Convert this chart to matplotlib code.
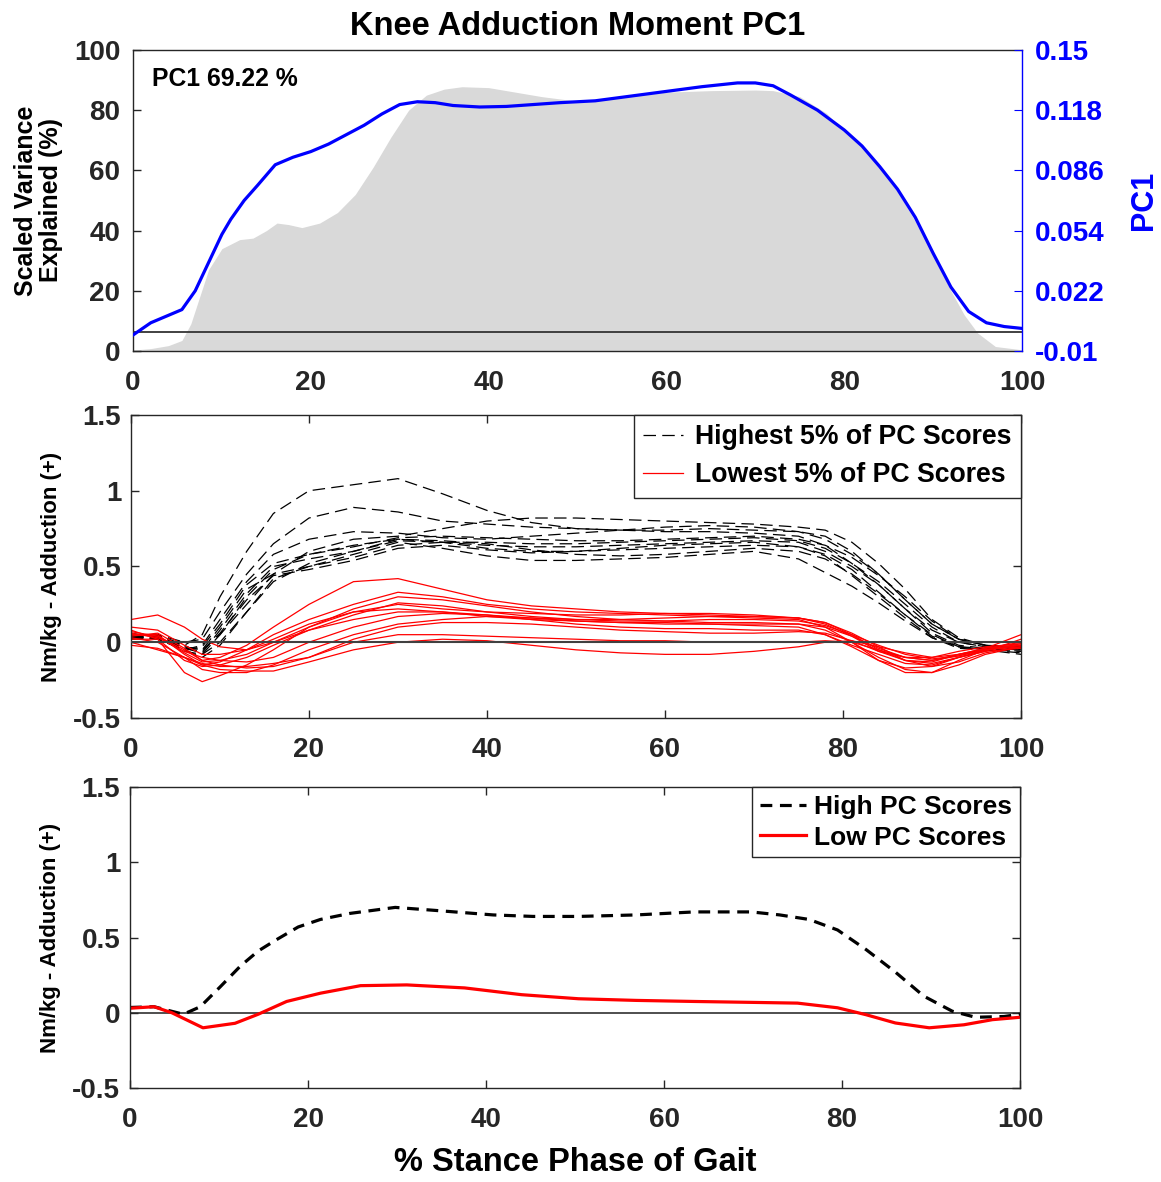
import numpy as np
import matplotlib
matplotlib.use("Agg")
import matplotlib.pyplot as plt

plt.rcParams['font.family'] = ['Liberation Sans', 'DejaVu Sans']
plt.rcParams['font.weight'] = 'bold'
plt.rcParams['lines.scale_dashes'] = False

#------------------------------#
# Top panel: variance + PC1    #
#------------------------------#
x_var = [0, 2, 4, 5.5, 6.5, 7.5, 8.5, 10, 12, 13.5, 15, 16.2, 17.5, 19, 21, 23, 25, 27, 29,
         31, 33, 35, 37, 40, 43, 46, 50, 55, 60, 65, 70, 72, 75, 78, 80, 82, 84, 86, 88,
         90, 92, 93.5, 95, 97, 100]
var_pct = [0.3, 0.8, 1.8, 3.5, 9, 18, 27, 34, 37, 37.5, 40, 42.5, 42, 41, 42.5, 46, 52, 61, 71,
           80, 85, 87, 87.8, 87.5, 86, 84.5, 83, 84.5, 86, 86.5, 86.7, 86.5, 84.5, 79, 73, 68,
           61, 53, 43, 32, 20, 12, 6, 1.5, 0.4]

x_pc = [0, 2, 4, 5.5, 7, 9, 10, 11, 12.5, 14, 16, 18, 20, 22, 24, 26, 28, 30, 32, 34, 36, 39,
        42, 45, 48, 52, 56, 60, 64, 68, 70, 72, 74, 77, 80, 82, 84, 86, 88, 90, 92, 94, 96,
        98, 100]
pc1 = [-0.0015, 0.005, 0.009, 0.012, 0.022, 0.042, 0.052, 0.060, 0.070, 0.078, 0.089, 0.093,
       0.096, 0.100, 0.105, 0.110, 0.116, 0.121, 0.1225, 0.122, 0.1205, 0.1197, 0.120, 0.121,
       0.122, 0.123, 0.1255, 0.128, 0.1305, 0.1325, 0.1325, 0.131, 0.126, 0.118, 0.1075,
       0.099, 0.088, 0.076, 0.061, 0.042, 0.024, 0.011, 0.005, 0.003, 0.002]

pc_ticks = [-0.01, 0.022, 0.054, 0.086, 0.118, 0.15]

#------------------------------#
# Middle panel: 5% extremes    #
#------------------------------#
x_grp = [0, 3, 6, 8, 10, 13, 16, 20, 25, 30, 35, 40, 45, 50, 55, 60, 65, 70, 75, 78, 81, 84,
         87, 90, 93, 96, 100]

high_curves = [
    [0.05, 0.04, -0.02, 0.05, 0.30, 0.60, 0.85, 1.00, 1.04, 1.08, 0.98, 0.87, 0.79, 0.75, 0.74, 0.73, 0.73, 0.72, 0.70, 0.64, 0.52, 0.38, 0.22, 0.08, 0.00, -0.03, -0.03],
    [0.05, 0.05, 0.00, 0.02, 0.20, 0.45, 0.65, 0.82, 0.89, 0.86, 0.80, 0.78, 0.76, 0.75, 0.74, 0.74, 0.75, 0.74, 0.73, 0.70, 0.60, 0.45, 0.28, 0.12, 0.02, -0.02, -0.04],
    [0.03, 0.05, -0.03, -0.05, 0.05, 0.25, 0.45, 0.60, 0.68, 0.70, 0.75, 0.80, 0.82, 0.82, 0.81, 0.80, 0.79, 0.78, 0.76, 0.74, 0.66, 0.52, 0.35, 0.15, 0.03, -0.02, -0.03],
    [0.04, 0.02, -0.05, -0.02, 0.15, 0.40, 0.58, 0.68, 0.73, 0.72, 0.69, 0.68, 0.70, 0.72, 0.74, 0.76, 0.77, 0.76, 0.73, 0.68, 0.58, 0.45, 0.28, 0.12, 0.02, -0.02, -0.05],
    [0.06, 0.03, -0.06, -0.08, 0.05, 0.30, 0.48, 0.58, 0.64, 0.68, 0.66, 0.62, 0.60, 0.60, 0.61, 0.62, 0.63, 0.64, 0.63, 0.58, 0.48, 0.33, 0.18, 0.05, -0.03, -0.05, -0.07],
    [0.02, 0.03, -0.05, -0.10, -0.02, 0.20, 0.42, 0.50, 0.58, 0.66, 0.62, 0.57, 0.54, 0.54, 0.55, 0.56, 0.58, 0.60, 0.55, 0.46, 0.37, 0.26, 0.14, 0.03, -0.04, -0.05, -0.08],
    [0.03, 0.04, -0.04, -0.07, 0.08, 0.32, 0.50, 0.55, 0.60, 0.67, 0.66, 0.64, 0.63, 0.63, 0.64, 0.65, 0.66, 0.67, 0.66, 0.60, 0.50, 0.38, 0.22, 0.06, -0.02, -0.04, -0.05],
    [0.05, 0.03, -0.03, -0.05, 0.10, 0.35, 0.45, 0.50, 0.56, 0.64, 0.66, 0.66, 0.65, 0.65, 0.66, 0.67, 0.68, 0.69, 0.67, 0.62, 0.52, 0.40, 0.25, 0.10, 0.00, -0.03, -0.04],
    [0.02, 0.05, -0.02, -0.08, 0.00, 0.20, 0.40, 0.52, 0.60, 0.68, 0.67, 0.65, 0.61, 0.58, 0.57, 0.58, 0.60, 0.62, 0.60, 0.55, 0.45, 0.32, 0.18, 0.04, -0.03, -0.04, -0.06],
    [0.04, 0.02, -0.05, -0.03, 0.12, 0.38, 0.52, 0.58, 0.63, 0.69, 0.70, 0.69, 0.68, 0.67, 0.67, 0.68, 0.69, 0.70, 0.68, 0.64, 0.56, 0.44, 0.30, 0.14, 0.02, -0.02, -0.03],
    [0.05, 0.04, -0.04, -0.06, 0.06, 0.28, 0.44, 0.48, 0.54, 0.62, 0.64, 0.61, 0.59, 0.60, 0.62, 0.64, 0.65, 0.66, 0.63, 0.57, 0.44, 0.30, 0.16, 0.03, -0.03, -0.05, -0.06],
]

low_curves = [
    [0.05, 0.04, -0.05, -0.12, -0.10, -0.02, 0.10, 0.25, 0.40, 0.42, 0.35, 0.28, 0.24, 0.22, 0.20, 0.19, 0.18, 0.17, 0.16, 0.13, 0.05, -0.05, -0.12, -0.13, -0.08, -0.05, -0.03],
    [0.15, 0.18, 0.10, 0.02, -0.03, -0.05, 0.00, 0.10, 0.20, 0.25, 0.22, 0.20, 0.19, 0.18, 0.18, 0.19, 0.19, 0.18, 0.16, 0.12, 0.04, -0.06, -0.12, -0.14, -0.10, -0.06, 0.02],
    [0.08, 0.02, -0.20, -0.26, -0.22, -0.15, -0.05, 0.10, 0.22, 0.30, 0.28, 0.24, 0.20, 0.17, 0.15, 0.14, 0.13, 0.13, 0.12, 0.08, 0.00, -0.10, -0.18, -0.20, -0.15, -0.08, -0.03],
    [0.00, -0.05, -0.10, -0.15, -0.18, -0.19, -0.19, -0.13, -0.05, 0.00, 0.02, 0.01, -0.02, -0.05, -0.07, -0.08, -0.08, -0.06, -0.03, 0.00, 0.01, -0.03, -0.07, -0.10, -0.08, -0.04, -0.02],
    [0.05, 0.05, -0.08, -0.15, -0.13, -0.05, 0.05, 0.15, 0.25, 0.33, 0.30, 0.25, 0.22, 0.20, 0.19, 0.18, 0.17, 0.16, 0.15, 0.10, 0.00, -0.12, -0.20, -0.20, -0.12, -0.05, -0.02],
    [0.10, 0.08, -0.02, -0.08, -0.08, -0.05, 0.02, 0.12, 0.20, 0.22, 0.20, 0.17, 0.15, 0.14, 0.13, 0.13, 0.12, 0.12, 0.12, 0.10, 0.04, -0.04, -0.10, -0.12, -0.08, -0.04, 0.00],
    [0.03, 0.00, -0.10, -0.18, -0.20, -0.20, -0.15, -0.05, 0.05, 0.12, 0.15, 0.17, 0.16, 0.14, 0.13, 0.12, 0.12, 0.11, 0.10, 0.05, -0.03, -0.12, -0.17, -0.16, -0.10, -0.06, -0.04],
    [0.06, 0.03, -0.06, -0.10, -0.12, -0.13, -0.10, 0.00, 0.10, 0.17, 0.19, 0.18, 0.15, 0.12, 0.10, 0.09, 0.09, 0.08, 0.08, 0.05, -0.02, -0.08, -0.14, -0.15, -0.10, -0.05, -0.02],
    [0.02, 0.02, -0.12, -0.16, -0.15, -0.10, -0.02, 0.08, 0.18, 0.26, 0.24, 0.20, 0.17, 0.15, 0.14, 0.14, 0.15, 0.15, 0.14, 0.11, 0.05, -0.02, -0.08, -0.11, -0.09, -0.05, -0.01],
    [0.04, 0.06, -0.04, -0.12, -0.15, -0.17, -0.16, -0.10, 0.02, 0.10, 0.13, 0.13, 0.12, 0.10, 0.08, 0.07, 0.06, 0.06, 0.07, 0.06, 0.01, -0.06, -0.10, -0.10, -0.06, -0.03, -0.01],
    [0.07, 0.04, -0.07, -0.13, -0.12, -0.08, 0.00, 0.08, 0.15, 0.20, 0.20, 0.18, 0.16, 0.15, 0.15, 0.16, 0.17, 0.17, 0.16, 0.13, 0.06, -0.03, -0.12, -0.16, -0.13, -0.07, -0.03],
    [-0.02, -0.04, -0.10, -0.14, -0.16, -0.16, -0.14, -0.10, 0.00, 0.05, 0.05, 0.04, 0.03, 0.02, 0.01, 0.01, 0.00, 0.00, 0.00, 0.01, 0.00, -0.05, -0.10, -0.12, -0.09, -0.04, 0.05],
]

#------------------------------#
# Bottom panel: group means    #
#------------------------------#
x_hi = [0, 2.7, 4, 6, 7.9, 10.1, 12.4, 14.4, 16.3, 18.9, 21.4, 24.7, 29.8, 34.3, 40.8, 45.3,
        50.4, 56.9, 63.4, 69.8, 73, 76.3, 79.5, 82.7, 86, 89.2, 92.4, 95, 98.2, 100]
hi_mean = [0.035, 0.04, 0.02, -0.01, 0.04, 0.17, 0.31, 0.41, 0.48, 0.57, 0.62, 0.66, 0.70,
           0.68, 0.65, 0.64, 0.64, 0.65, 0.67, 0.67, 0.65, 0.62, 0.55, 0.42, 0.27, 0.11, 0.01,
           -0.03, -0.025, -0.01]

x_lo = [0, 2.7, 4.7, 8.2, 11.8, 14.4, 17.6, 21.4, 25.9, 31.1, 37.6, 44, 50.4, 56.9, 63.4,
        69.8, 75, 79.5, 82.7, 86, 89.8, 93.7, 96.9, 100]
lo_mean = [0.03, 0.04, 0.0, -0.10, -0.07, -0.01, 0.075, 0.13, 0.18, 0.185, 0.165, 0.12, 0.093,
           0.082, 0.075, 0.069, 0.064, 0.033, -0.013, -0.068, -0.10, -0.08, -0.046, -0.03]

txt = (0.15, 0.15, 0.15)
W, H = 1161, 1182
fig = plt.figure(figsize=(W / 100, H / 100), dpi=100)


def box(l, t, r, b):
    return [l / W, 1 - b / H, (r - l) / W, (b - t) / H]


def style(ax, ypad):
    for s in ax.spines.values():
        s.set_color(txt)
        s.set_linewidth(1.0)
    ax.tick_params(direction='in', length=6, width=1.0, colors=txt, labelsize=20,
                   top=True, right=True)
    ax.tick_params(axis='x', pad=14)
    ax.tick_params(axis='y', pad=ypad)
    for lab in ax.get_xticklabels() + ax.get_yticklabels():
        lab.set_fontweight('bold')


# top
ax1 = fig.add_axes(box(133, 50, 1022, 351))
ax1.fill_between(x_var, var_pct, 0, color='#d9d9d9', lw=0)
ax1.set_xlim(0, 100)
ax1.set_ylim(0, 100)
ax1.set_xticks([0, 20, 40, 60, 80, 100])
ax1.set_yticks([0, 20, 40, 60, 80, 100])
style(ax1, 9)
ax1.tick_params(top=False, right=False)
ax1.tick_params(axis='x', length=0)
ax1.spines['right'].set_visible(False)
ax1.set_ylabel('Scaled Variance\nExplained (%)', fontsize=18, fontweight='bold',
               color='black', labelpad=8, linespacing=1.05)
ax1.set_title('Knee Adduction Moment PC1', fontsize=23.5, fontweight='bold', pad=11)
ax1.text(0.021, 0.905, 'PC1 69.22 %', transform=ax1.transAxes, fontsize=17.8,
         fontweight='bold', va='center', ha='left', color='black')

ax2 = ax1.twinx()
ax2.plot(x_pc, pc1, color='blue', lw=2.3, zorder=3)
ax2.axhline(0, color=(0.2, 0.2, 0.2), lw=1.3, zorder=2)
ax2.set_ylim(-0.01, 0.15)
ax2.set_yticks(pc_ticks)
ax2.set_yticklabels([f'{t:g}' for t in pc_ticks])
for s in ['left', 'top', 'bottom']:
    ax2.spines[s].set_visible(False)
ax2.spines['right'].set_color('blue')
ax2.spines['right'].set_linewidth(1.0)
ax2.tick_params(axis='y', direction='in', length=6, colors='blue', labelsize=20, pad=9)
for lab in ax2.get_yticklabels():
    lab.set_fontweight('bold')
ax2.set_ylabel('PC1', fontsize=22, fontweight='bold', color='blue', labelpad=18)

# middle
ax3 = fig.add_axes(box(131, 415, 1021, 718))
for i, c in enumerate(high_curves):
    ax3.plot(x_grp, c, color='black', lw=0.9, dashes=(9, 4.5),
             label='Highest 5% of PC Scores' if i == 0 else None)
for i, c in enumerate(low_curves):
    ax3.plot(x_grp, c, color='red', lw=0.9,
             label='Lowest 5% of PC Scores' if i == 0 else None)
ax3.axhline(0, color=(0.25, 0.25, 0.25), lw=1.5, zorder=5)
ax3.set_xlim(0, 100)
ax3.set_ylim(-0.5, 1.5)
ax3.set_xticks([0, 20, 40, 60, 80, 100])
ax3.set_yticks([-0.5, 0, 0.5, 1, 1.5])
ax3.set_yticklabels(['-0.5', '0', '0.5', '1', '1.5'])
style(ax3, 7)
ax3.set_ylabel('Nm/kg - Adduction (+)', fontsize=16, fontweight='bold', labelpad=8)
leg = ax3.legend(loc='upper right', fontsize=19.2, borderaxespad=0, fancybox=False,
                 edgecolor=txt, framealpha=1, handlelength=1.5, handletextpad=0.45,
                 labelspacing=0.45, borderpad=0.35)
leg.get_frame().set_linewidth(1.0)

# bottom
ax4 = fig.add_axes(box(130, 787, 1020, 1088))
ax4.plot(x_hi, hi_mean, color='black', lw=2.3, dashes=(8.5, 5.5), label='High PC Scores')
ax4.plot(x_lo, lo_mean, color='red', lw=2.3, label='Low PC Scores')
ax4.axhline(0, color=(0.25, 0.25, 0.25), lw=1.3, zorder=1)
ax4.set_xlim(0, 100)
ax4.set_ylim(-0.5, 1.5)
ax4.set_xticks([0, 20, 40, 60, 80, 100])
ax4.set_yticks([-0.5, 0, 0.5, 1, 1.5])
ax4.set_yticklabels(['-0.5', '0', '0.5', '1', '1.5'])
style(ax4, 7)
ax4.set_ylabel('Nm/kg - Adduction (+)', fontsize=16, fontweight='bold', labelpad=8)
ax4.set_xlabel('% Stance Phase of Gait', fontsize=23.5, fontweight='bold', labelpad=10)
leg2 = ax4.legend(loc='upper right', fontsize=19, borderaxespad=0, fancybox=False,
                  edgecolor=txt, framealpha=1, handlelength=1.75, handletextpad=0.3,
                  labelspacing=0.25, borderpad=0.3)
leg2.get_frame().set_linewidth(1.0)

fig.savefig('out.png', dpi=100)
